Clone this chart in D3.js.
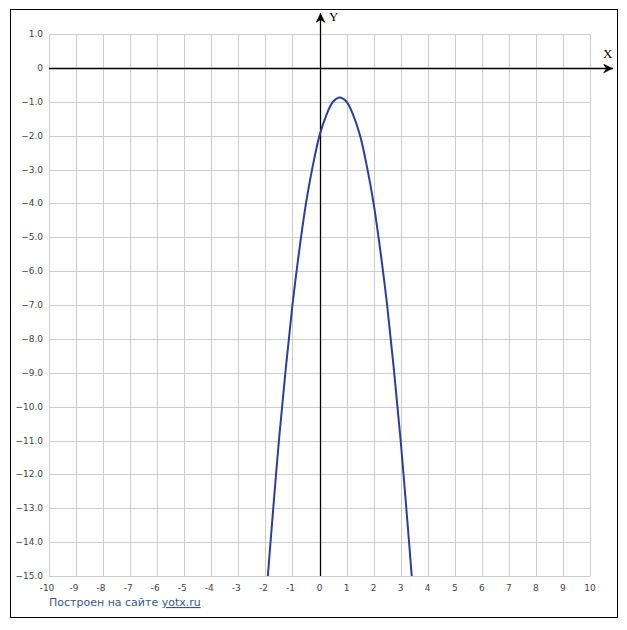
<!DOCTYPE html>
<html>
<head>
<meta charset="utf-8">
<script src="https://cdn.jsdelivr.net/npm/d3@7"></script>
<style>
  body { margin: 0; background: #fff; }
  text { font-family: Tahoma, "DejaVu Sans", sans-serif; }
  text.axis-name { font-family: "Liberation Serif", serif; }
</style>
</head>
<body>
<svg id="chart" width="627" height="630"></svg>
<script>
// tick values on both axes
const xTicks = [-10, -9, -8, -7, -6, -5, -4, -3, -2, -1, 0, 1, 2, 3, 4, 5, 6, 7, 8, 9, 10];
const yTicks = [1, 0, -1, -2, -3, -4, -5, -6, -7, -8, -9, -10, -11, -12, -13, -14, -15];

// points of the plotted curve
const curveX = [-1.91, -1.75, -1.5, -1.25, -1, -0.75, -0.5, -0.25, 0, 0.25, 0.5, 0.75, 1, 1.25, 1.5, 1.75, 2, 2.25, 2.5, 2.75, 3, 3.25, 3.41];
const curveY = [-15, -13.4, -11, -8.9, -7, -5.4, -4, -2.9, -2, -1.4, -1, -0.875, -1, -1.4, -2, -2.9, -4, -5.4, -7, -8.9, -11, -13.4, -15];

const footerText = 'Построен на сайте ';
const footerLink = 'yotx.ru';

const svg = d3.select('#chart');

const x = d3.scaleLinear().domain([-10, 10]).range([49, 590]);
const y = d3.scaleLinear().domain([1, -15]).range([34, 576]);

// outer frame
svg.append('rect')
  .attr('x', 10.5).attr('y', 9.5)
  .attr('width', 607).attr('height', 608)
  .attr('fill', 'none')
  .attr('stroke', '#000')
  .attr('stroke-width', 1);

// grid
const grid = svg.append('g').attr('stroke', '#cccccc').attr('stroke-width', 1);
grid.selectAll('line.gx')
  .data(xTicks)
  .enter()
  .append('line')
  .attr('class', 'gx')
  .attr('x1', (d) => Math.round(x(d)) + 0.5)
  .attr('x2', (d) => Math.round(x(d)) + 0.5)
  .attr('y1', y(1))
  .attr('y2', y(-15));
grid.selectAll('line.gy')
  .data(yTicks)
  .enter()
  .append('line')
  .attr('class', 'gy')
  .attr('y1', (d) => Math.round(y(d)) + 0.5)
  .attr('y2', (d) => Math.round(y(d)) + 0.5)
  .attr('x1', x(-10))
  .attr('x2', x(10));

// tick labels
svg.append('g')
  .selectAll('text')
  .data(yTicks)
  .enter()
  .append('text')
  .attr('x', 43)
  .attr('y', (d) => y(d) + 3)
  .attr('text-anchor', 'end')
  .attr('font-size', 9)
  .attr('fill', '#444')
  .text((d) => (d === 0 ? '0' : d3.format('.1f')(d)));

svg.append('g')
  .selectAll('text')
  .data(xTicks)
  .enter()
  .append('text')
  .attr('x', (d) => x(d) - (d < 0 ? 2 : 0))
  .attr('y', 591)
  .attr('text-anchor', 'middle')
  .attr('font-size', 9)
  .attr('fill', '#444')
  .text((d) => d);

// axes with arrows
svg.append('defs')
  .append('marker')
  .attr('id', 'arrow')
  .attr('viewBox', '0 0 10 10')
  .attr('refX', 10).attr('refY', 5)
  .attr('markerWidth', 10).attr('markerHeight', 10)
  .attr('markerUnits', 'userSpaceOnUse')
  .attr('orient', 'auto')
  .append('path')
  .attr('d', 'M0,0 L10,5 L0,10 L3,5 Z')
  .attr('fill', '#000');

const x0 = Math.round(x(0)) + 0.5;
const y0 = Math.round(y(0)) + 0.5;

svg.append('line')
  .attr('x1', x(-10)).attr('x2', 613)
  .attr('y1', y0).attr('y2', y0)
  .attr('stroke', '#000').attr('stroke-width', 1.3)
  .attr('marker-end', 'url(#arrow)');

svg.append('line')
  .attr('x1', x0).attr('x2', x0)
  .attr('y1', y(-15)).attr('y2', 13)
  .attr('stroke', '#000').attr('stroke-width', 1.3)
  .attr('marker-end', 'url(#arrow)');

svg.append('text')
  .attr('class', 'axis-name')
  .attr('x', 603).attr('y', 58)
  .attr('font-size', 13)
  .attr('fill', '#000')
  .text('X');

svg.append('text')
  .attr('class', 'axis-name')
  .attr('x', 329).attr('y', 21)
  .attr('font-size', 13)
  .attr('fill', '#000')
  .text('Y');

// curve
const points = curveX.map((d, i) => [d, curveY[i]]);
const line = d3.line()
  .x((d) => x(d[0]))
  .y((d) => y(d[1]))
  .curve(d3.curveCatmullRom);

svg.append('clipPath')
  .attr('id', 'plot-clip')
  .append('rect')
  .attr('x', x(-10)).attr('y', y(1))
  .attr('width', x(10) - x(-10)).attr('height', y(-15) - y(1));

svg.append('path')
  .datum(points)
  .attr('clip-path', 'url(#plot-clip)')
  .attr('d', line)
  .attr('fill', 'none')
  .attr('stroke', '#2b3d9e')
  .attr('stroke-width', 2);

// footer
const footer = svg.append('text')
  .attr('x', 49).attr('y', 606)
  .attr('font-size', 11)
  .attr('fill', '#3b5488');
footer.append('tspan').text(footerText);
footer.append('tspan')
  .attr('text-decoration', 'underline')
  .text(footerLink);
</script>
</body>
</html>
